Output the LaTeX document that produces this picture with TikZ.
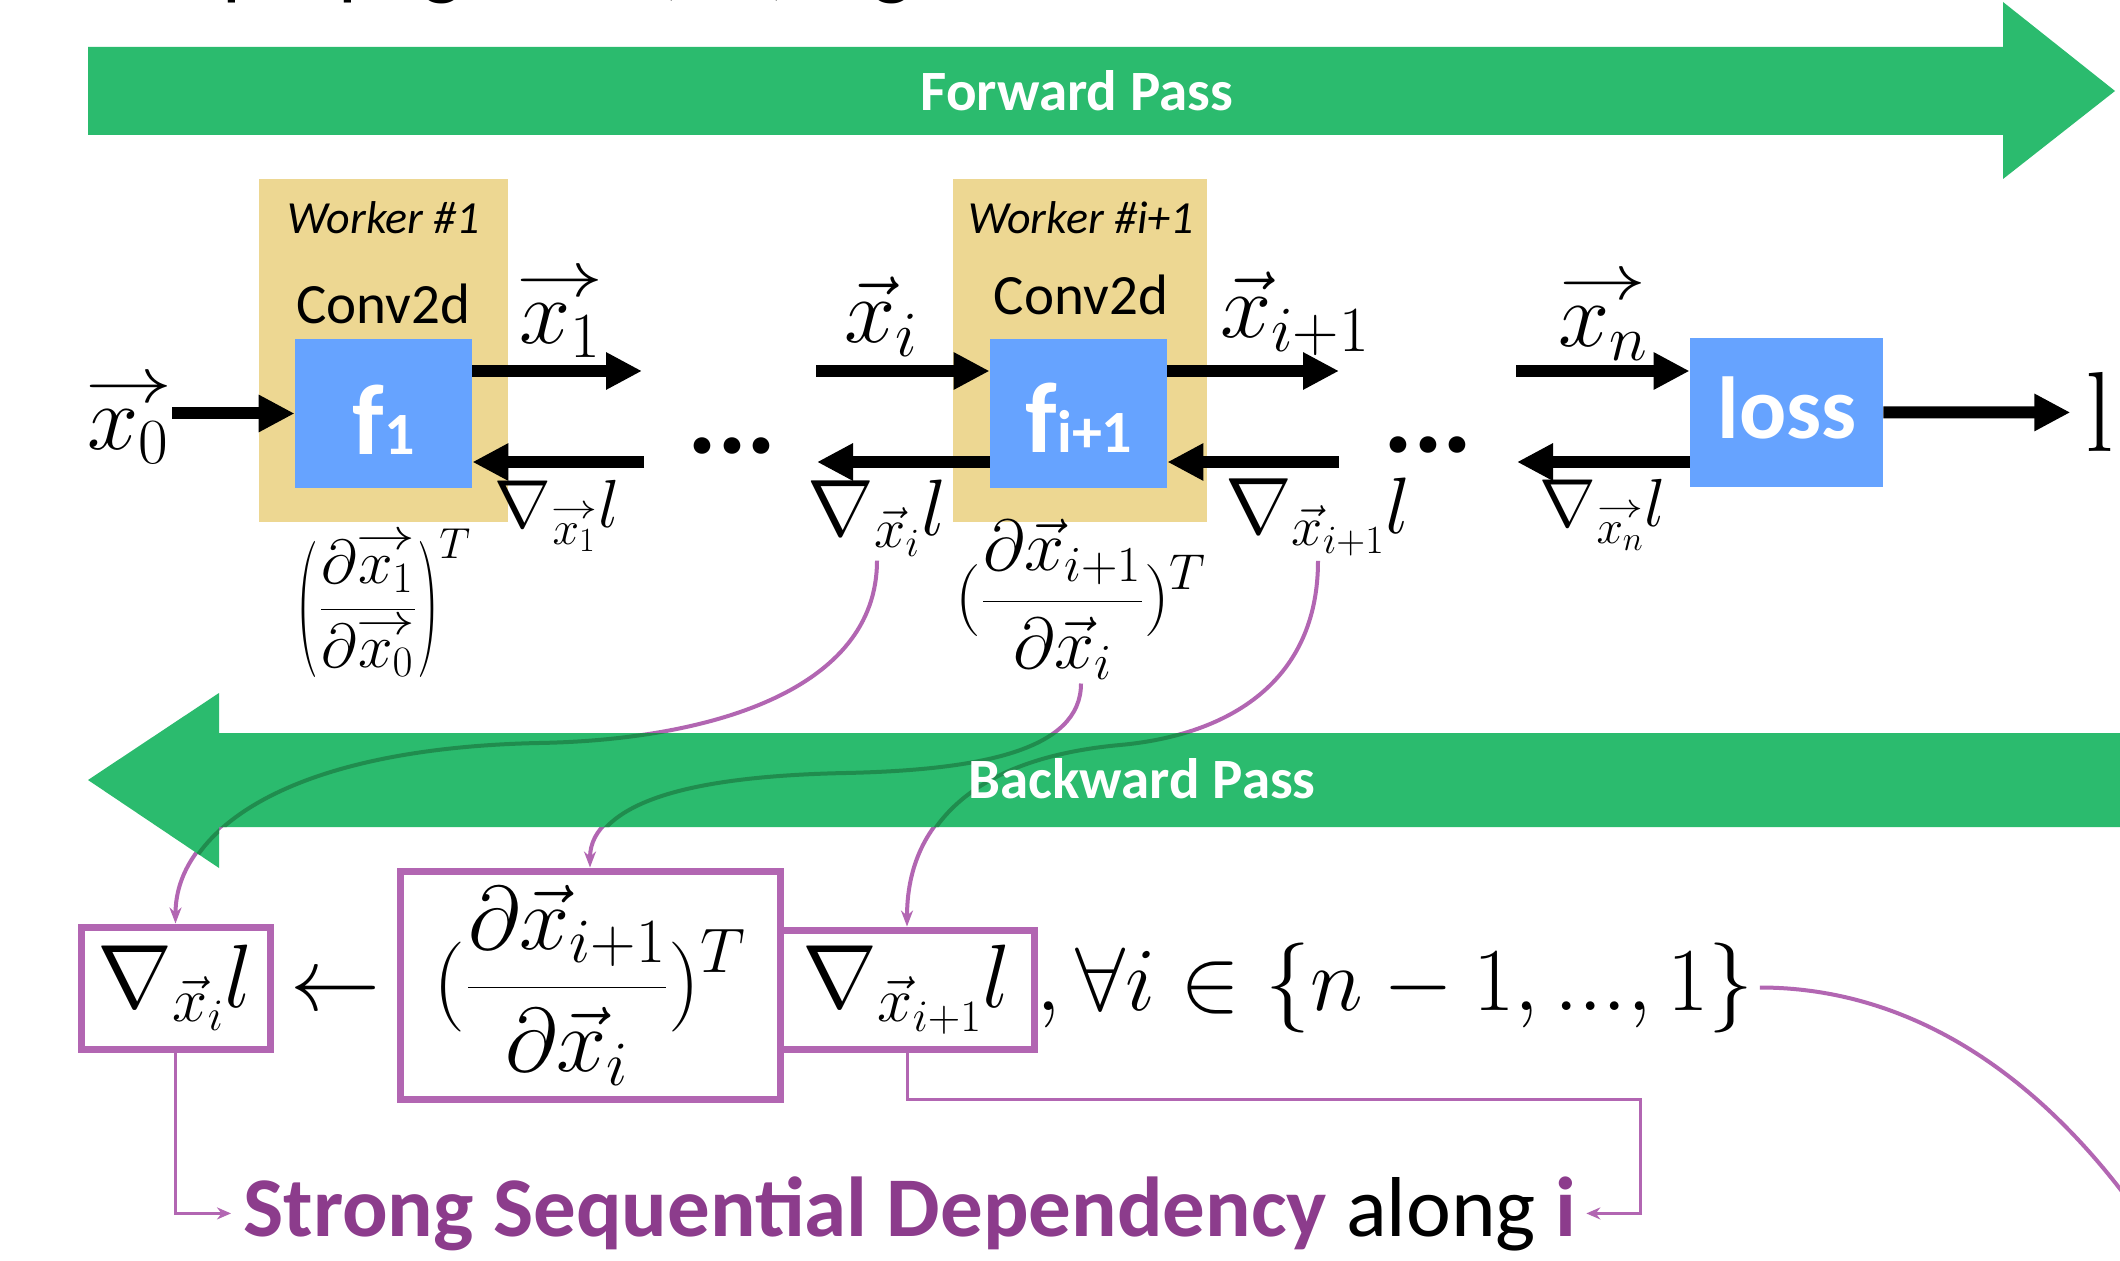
\RequirePackage{fix-cm}
\documentclass[tikz,border=0pt]{standalone}
\usepackage[no-math]{fontspec}
\usepackage{graphicx}
\newfontfamily\calib{Carlito}
\usetikzlibrary{arrows.meta,calc}
\definecolor{bandgreen}{RGB}{43,187,110}
\definecolor{darkband}{RGB}{32,140,78}
\definecolor{tanc}{RGB}{237,215,146}
\definecolor{fblue}{RGB}{102,163,255}
\definecolor{pboxc}{RGB}{178,102,178}
\definecolor{ptext}{RGB}{140,60,140}
\newcommand{\setfs}[1]{\fontsize{#1}{#1}\selectfont}
\newcommand{\warr}{\mathchoice
  {\raisebox{0.04em}{\scalebox{1.35}[1]{$\scriptstyle\rightarrow$}}}
  {\raisebox{0.04em}{\scalebox{1.35}[1]{$\scriptstyle\rightarrow$}}}
  {\raisebox{0.04em}{\scalebox{1.35}[1]{$\scriptstyle\rightarrow$}}}
  {\raisebox{0.03em}{\scalebox{1.35}[1]{$\scriptscriptstyle\rightarrow$}}}}
\newcommand{\ovec}[1]{{\mathop{#1}\limits^{\warr}}}
\newcommand{\tallL}{\mathopen{\raisebox{-0.3em}{\scalebox{1}[2.2]{$($}}}}
\newcommand{\tallR}{\mathclose{\raisebox{-0.3em}{\scalebox{1}[2.2]{$)$}}}}
\tikzset{
  lab/.style={inner sep=0pt},
  tanbox/.style={fill=tanc, draw=none, inner sep=0pt},
  bluebox/.style={fill=fblue, draw=none, inner sep=0pt},
  fwd/.style={line width=6pt, -{Triangle[length=18pt,width=17.5pt]}},
  pcurve/.style={draw=pboxc, line width=2pt, -{Stealth[length=8pt,width=6pt]}},
  pline/.style={draw=pboxc, line width=2pt},
  dkcurve/.style={draw=darkband, line width=2pt},
  elb/.style={draw=pboxc, line width=1.5pt, -{Stealth[length=7pt,width=6pt]}},
  eqbox/.style={draw=pboxc, line width=3.5pt, inner sep=0pt},
}
\begin{document}
\begin{tikzpicture}[x=0.5pt,y=-0.5pt]
\useasboundingbox (0,0) rectangle (2120,1261);
\clip (0,0) rectangle (2120,1261);
\fill[white] (0,0) rectangle (2120,1261);

% cut-off title
\node[lab, anchor=base west, font=\calib\setfs{42}] (title) at (62,-10) {Backpropagation (BP) algorithm};

% forward band
\fill[bandgreen] (88,47) -- (2003,47) -- (2003,2) -- (2115,91) -- (2003,179) -- (2003,135) -- (88,135) -- cycle;
\node[lab, anchor=base, font=\calib\bfseries\setfs{28.5}, text=white] (fwdlab) at (1077,111) {Forward Pass};

% workers
\node[tanbox, minimum width=124.5pt, minimum height=171.5pt] (w1) at (383.5,350.5) {};
\node[tanbox, minimum width=127pt, minimum height=171.5pt] (wi) at (1080,350.5) {};
\node[lab, anchor=base, font=\calib\itshape\setfs{23}] (w1t) at (384,234) {Worker \#1};
\node[lab, anchor=base, font=\calib\itshape\setfs{23}] (wit) at (1081,234) {Worker \#i+1};
\node[lab, anchor=base, font=\calib\setfs{28.5}] (c1t) at (383.5,324) {Conv2d};
\node[lab, anchor=base, font=\calib\setfs{28.5}] (cit) at (1081,315) {Conv2d};

% blue boxes
\node[bluebox, minimum width=88.5pt, minimum height=74.5pt] (f1) at (383.5,413.5) {};
\node[bluebox, minimum width=88.5pt, minimum height=74.5pt] (fi1) at (1078.5,413.5) {};
\node[bluebox, minimum width=96.5pt, minimum height=74.5pt] (loss) at (1786.5,412.5) {};
\node[lab, anchor=base, text=white, font=\calib\bfseries] (f1t) at (383.5,455) {\setfs{50}f\setfs{30}1};
\node[lab, anchor=base, text=white, font=\calib\bfseries] (fi1t) at (1079,453) {\setfs{50}f\setfs{30}i+1};
\node[lab, anchor=base, text=white, font=\calib\bfseries\setfs{44}] (losst) at (1787,439) {loss};

% math labels (top row)
\node[lab] (x0) at (128.5,420) {\setfs{46}$\ovec{x_0}$};
\node[lab] (x1) at (560,314) {\setfs{46}$\ovec{x_1}$};
\node[lab] (xi) at (881,317) {\setfs{46}$\vec{x}_i$};
\node[lab] (xi1) at (1295,314) {\setfs{46}$\vec{x}_{i+1}$};
\node[lab] (xn) at (1603,317) {\setfs{46}$\ovec{x_n}$};
\node[lab] (g1) at (557,516) {\setfs{34}$\nabla_{\ovec{x_1}} l$};
\node[lab] (gi) at (877,518) {\setfs{40}$\nabla_{\vec{x}_i} l$};
\node[lab] (gi1) at (1318,517) {\setfs{40}$\nabla_{\vec{x}_{i+1}} l$};
\node[lab] (gn) at (1603,515) {\setfs{34}$\nabla_{\ovec{x_n}} l$};
\node[lab] (J1) at (384,603) {\setfs{31}$\displaystyle\tallL\frac{\partial\ovec{x_1}}{\partial\ovec{x_0}}\tallR^{T}$};
\node[lab] (Ji) at (1081,599) {\setfs{36}$\displaystyle(\frac{\partial\vec{x}_{i+1}}{\partial\vec{x}_i})^T$};
\node[lab, anchor=base, font=\setfs{57}] (ellout) at (2100,452) {l};
\node[lab, anchor=base, font=\calib\bfseries\setfs{56}] (dots1) at (732,454) {...};
\node[lab, anchor=base, font=\calib\bfseries\setfs{56}] (dots2) at (1428,453) {...};

% black arrows
\coordinate (a1e) at (642,371);
\coordinate (b1s) at (644,462);
\coordinate (a2s) at (816,371);
\coordinate (b2e) at (817,462);
\coordinate (a3e) at (1339,371);
\coordinate (b3s) at (1339,462);
\coordinate (a4s) at (1516,371);
\coordinate (b4e) at (1517,462);
\draw[fwd] (x0.east |- f1.west) -- (f1.west);
\draw[fwd] (f1.east |- a1e) -- (a1e);
\draw[fwd] (b1s) -- (f1.east |- b1s);
\draw[fwd] (a2s) -- (fi1.west |- a2s);
\draw[fwd] (fi1.west |- b2e) -- (b2e);
\draw[fwd] (fi1.east |- a3e) -- (a3e);
\draw[fwd] (b3s) -- (fi1.east |- b3s);
\draw[fwd] (a4s) -- (loss.west |- a4s);
\draw[fwd] (loss.west |- b4e) -- (b4e);
\draw[fwd] (loss.east) -- ($(ellout.west)+(-7.5pt,0)$);

% bottom equation
\node[eqbox, minimum width=94.5pt, minimum height=61pt] (box1) at (175.5,988) {\setfs{45}$\nabla_{\vec{x}_i} l$};
\node[lab, anchor=base] (larr) at (335,1010) {\setfs{45}$\leftarrow$};
\node[eqbox, minimum width=190pt, minimum height=114pt] (box2) at (590,985) {\setfs{45}$\displaystyle(\frac{\partial\vec{x}_{i+1}}{\partial\vec{x}_i})^T$};
\node[eqbox, minimum width=127pt, minimum height=59.5pt] (box3) at (907,989.5) {\setfs{45}$\nabla_{\vec{x}_{i+1}} l$};
\node[lab, anchor=base west] (eq4) at (1036,1010) {\setfs{45}$,\forall i\in\{n-1,...,1\}$};

% purple curves
\coordinate (m1) at (539,743);
\coordinate (m2) at (846,773);
\coordinate (m3) at (1120,745);
\coordinate (offp) at (2150,1230);
\draw[pcurve] ([yshift=-2pt]gi.south) .. controls +(0,130) and +(170,-3) .. (m1) .. controls +(-240,5) and +(0,-100) .. (box1.north);
\draw[pcurve] ([yshift=-2pt]Ji.south) .. controls +(0,67) and +(134,-3) .. (m2) .. controls +(-146,3) and +(0,-69) .. (box2.north);
\draw[pcurve] ([yshift=-2pt]gi1.south) .. controls +(0,120) and +(110,-10) .. (m3) .. controls +(-110,10) and +(0,-128) .. (box3.north);
\draw[pline] ([xshift=3pt]eq4.east) .. controls +(116,0) and +(-130,-190) .. (offp);

% backward band
\fill[bandgreen] (2130,733) -- (219,733) -- (219,693) -- (88,780) -- (219,868) -- (219,827) -- (2130,827) -- cycle;
\begin{scope}
\clip (2130,733) -- (219,733) -- (219,693) -- (88,780) -- (219,868) -- (219,827) -- (2130,827) -- cycle;
\draw[dkcurve] ([yshift=-2pt]gi.south) .. controls +(0,130) and +(170,-3) .. (m1) .. controls +(-240,5) and +(0,-100) .. (box1.north);
\draw[dkcurve] ([yshift=-2pt]Ji.south) .. controls +(0,67) and +(134,-3) .. (m2) .. controls +(-146,3) and +(0,-69) .. (box2.north);
\draw[dkcurve] ([yshift=-2pt]gi1.south) .. controls +(0,120) and +(110,-10) .. (m3) .. controls +(-110,10) and +(0,-128) .. (box3.north);
\end{scope}
\node[lab, anchor=base, font=\calib\bfseries\setfs{28.5}, text=white] (bwdlab) at (1142,798) {Backward Pass};

% bottom text and elbows
\node[lab, anchor=base west, font=\calib\setfs{42.5}] (dep) at (243,1236) {\textcolor{ptext}{\bfseries Strong Sequential Dependency} along \textcolor{ptext}{\bfseries i}};
\coordinate (rc) at (1640,1099);
\draw[elb] (box1.south) |- ([xshift=-6pt]dep.west);
\draw[elb] (box3.south) |- (rc) |- ([xshift=5pt]dep.east);
\end{tikzpicture}
\end{document}
